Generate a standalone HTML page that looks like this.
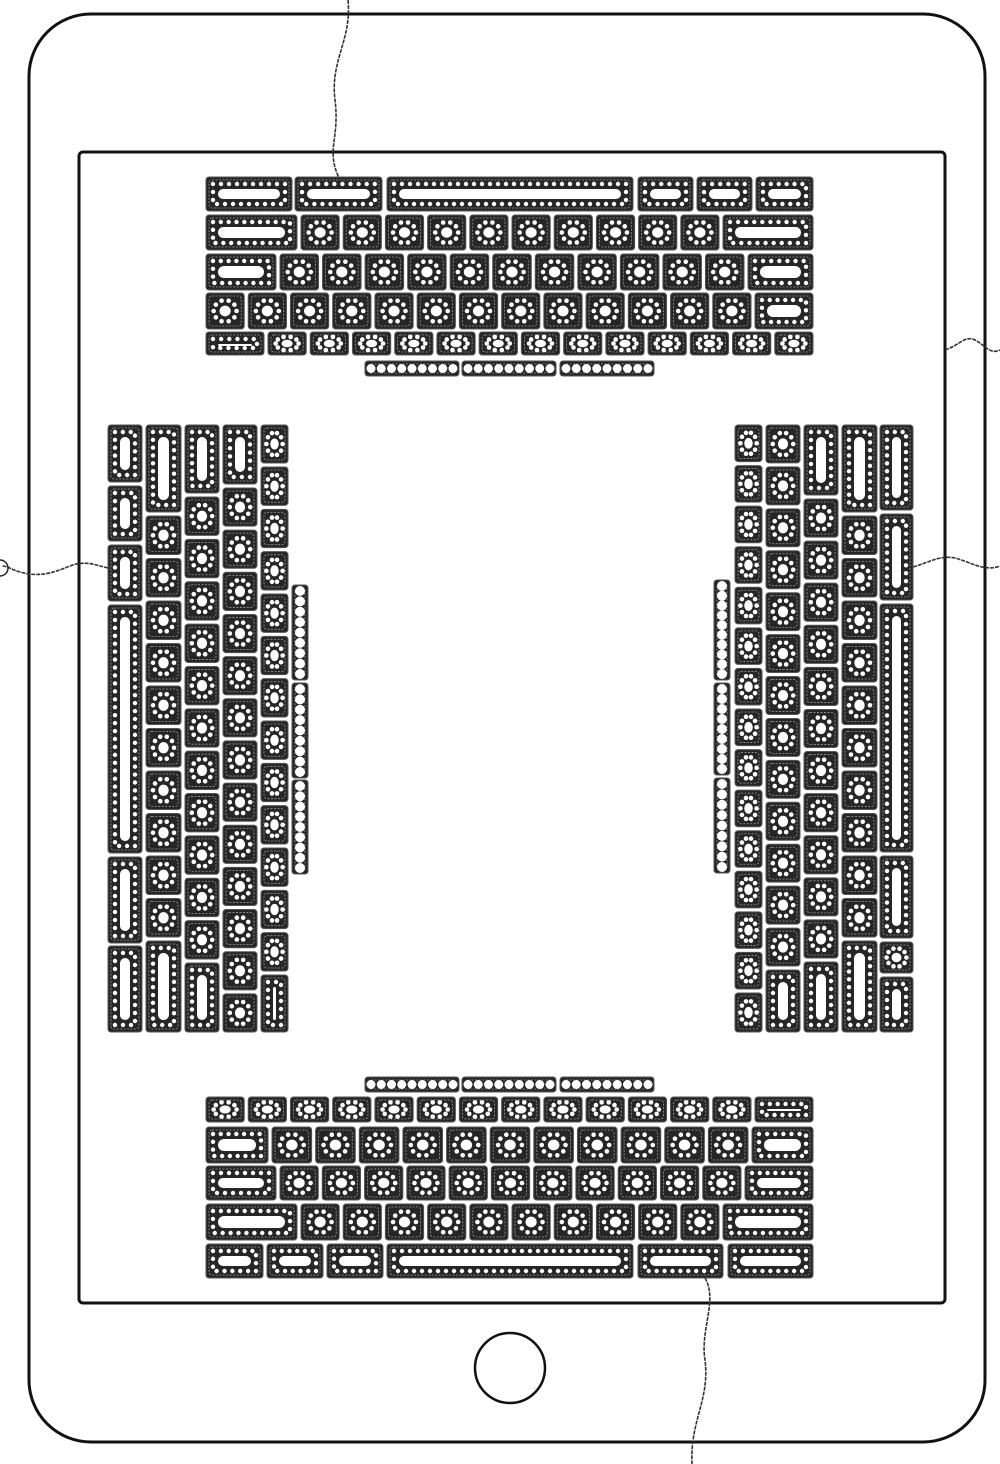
<!DOCTYPE html>
<html><head><meta charset="utf-8"><style>
html,body{margin:0;padding:0;background:#fff;width:1000px;height:1464px;overflow:hidden}
svg{display:block}
</style></head><body>
<svg id="s" width="1000" height="1464" viewBox="0 0 1000 1464" xmlns="http://www.w3.org/2000/svg">
<rect x="29" y="14" width="956" height="1428" rx="62" fill="none" stroke="#111" stroke-width="3"/>
<rect x="79" y="152" width="866" height="1151" rx="4" fill="none" stroke="#111" stroke-width="3"/>
<circle cx="510" cy="1368" r="35" fill="none" stroke="#111" stroke-width="2.5"/>
<g fill="none" stroke="#333" stroke-width="1.6" stroke-dasharray="4 1">
<path d="M348 0 C352 40,330 60,335 100 C340 140,325 150,340 180"/>
<path d="M945 350 C960 345,965 335,975 340 C985 345,990 355,1000 350"/>
<path d="M913 567 C930 562,940 555,955 558 C970 562,985 572,1000 566"/>
<path d="M108 568 C95 565,85 560,70 566 C55 572,40 578,20 572 C12 570,8 566,2 566"/>
<path d="M705 1278 C718 1300,700 1330,705 1360 C710 1400,690 1420,692 1464"/>
</g>
<path d="M0 560 A8 8 0 0 1 0 576" fill="none" stroke="#222" stroke-width="1.5"/>
<g id="k"></g>
</svg>
<script>
var out=[];
function key(x,y,w,h){
  out.push('<rect x="'+x+'" y="'+y+'" width="'+w+'" height="'+h+'" rx="3" fill="#262626" stroke="#555" stroke-width="1"/>');
  out.push('<rect x="'+(x+3)+'" y="'+(y+3)+'" width="'+(w-6)+'" height="'+(h-6)+'" rx="3" fill="none" stroke="#999" stroke-width="0.8" stroke-dasharray="2 1.5"/>');
  var cx=x+w/2,cy=y+h/2;
  if(w<20||h<20){
    var hor=w>h, L=hor?w:h, n=Math.floor((L-6)/9), d=Math.min(w,h)/2-3;
    for(var i=0;i<n;i++){var p=6+(L-12)*(n==1?0.5:i/(n-1));
      out.push('<circle cx="'+(hor?x+p:cx)+'" cy="'+(hor?cy:y+p)+'" r="'+Math.max(2,d)+'" fill="#fff"/>');}
    return;
  }
  if(Math.max(w,h)<46){
    out.push('<ellipse cx="'+cx+'" cy="'+cy+'" rx="'+(w*0.12+1)+'" ry="'+(h*0.12+1)+'" fill="#fff"/>');
    for(var a=0;a<10;a++){var t=a/10*2*Math.PI;
      out.push('<circle cx="'+(cx+Math.cos(t)*w*0.3)+'" cy="'+(cy+Math.sin(t)*h*0.3)+'" r="2.3" fill="#fff"/>');}
  } else {
    var ix=x+7,iy=y+7,iw=w-14,ih=h-14;
    var sx=x+12,sy=y+12,sw=w-24,sh=h-24;
    out.push('<rect x="'+sx+'" y="'+sy+'" width="'+Math.max(2,sw)+'" height="'+Math.max(2,sh)+'" rx="'+Math.max(1,Math.min(sw,sh)/2)+'" fill="#fff"/>');
    var per=2*(iw+ih),n=Math.round(per/8);
    for(var i=0;i<n;i++){var s=i/n*per,px,py;
      if(s<iw){px=ix+s;py=iy}else if(s<iw+ih){px=ix+iw;py=iy+s-iw}else if(s<2*iw+ih){px=ix+iw-(s-iw-ih);py=iy+ih}else{px=ix;py=iy+ih-(s-2*iw-ih)}
      out.push('<circle cx="'+px+'" cy="'+py+'" r="2.2" fill="#fff"/>');}
  }
}
function row(y,h,x0,x1,st,en,g){g=g||4;var x=x0;
  st.forEach(function(w){key(x,y,w,h);x+=w+g});
  var xe=x1;var ends=[];en.slice().reverse().forEach(function(w){xe-=w;ends.unshift(xe);xe-=g});
  var rem=xe+g-x,n=Math.max(0,Math.round(rem/42));
  if(n){var w=(rem-g*n)/n;for(var i=0;i<n;i++)key(x+i*(w+g),y,w,h);}
  en.forEach(function(w,i){key(ends[i],y,w,h)});
}
function col(x,w,y0,y1,st,en,g){g=g||4;var y=y0;
  st.forEach(function(h){key(x,y,w,h);y+=h+g});
  var ye=y1;var ends=[];en.slice().reverse().forEach(function(h){ye-=h;ends.unshift(ye);ye-=g});
  var rem=ye+g-y,n=Math.max(0,Math.round(rem/42));
  if(n){var h=(rem-g*n)/n;for(var i=0;i<n;i++)key(x,y+i*(h+g),w,h);}
  en.forEach(function(h,i){key(x,ends[i],w,h)});
}
key(206,177,86,34);key(295,177,87,34);key(387,177,246,34);key(638,177,55,34);key(697,177,55,34);key(756,177,57,34);
row(215,35,206,813,[91],[90]);
row(254,36,206,813,[70],[65]);
row(293,36,206,813,[],[58]);
row(332,23,206,813,[58],[]);
key(365,361,94,15);key(462,361,94,15);key(560,361,94,15);
key(365,1077,94,15);key(462,1077,94,15);key(560,1077,94,15);
row(1097,25,206,813,[],[58]);
row(1127,36,206,813,[62],[61]);
row(1166,34,206,813,[70],[68]);
row(1204,36,206,813,[91],[90]);
key(206,1244,57,34);key(267,1244,56,34);key(327,1244,56,34);key(387,1244,246,34);key(638,1244,85,34);key(728,1244,85,34);
col(108,34,425,1032,[57,55,56,248,86],[86]);
col(146,35,425,1032,[87],[91]);
col(185,34,425,1032,[68],[69]);
col(223,34,425,1032,[59],[]);
col(261,27,425,1032,[38],[57]);
key(292,585,16,95);key(292,683,16,95);key(292,780,16,94);
key(714,580,16,100);key(714,683,16,92);key(714,778,16,95);
col(735,27,425,1032,[],[39]);
col(766,34,425,1032,[],[62]);
col(804,34,425,1032,[70],[70]);
col(842,35,425,1032,[87],[91]);
col(880,33,425,1032,[85,86,248,82],[55]);
document.getElementById('k').innerHTML=out.join('');
</script>
</body></html>
